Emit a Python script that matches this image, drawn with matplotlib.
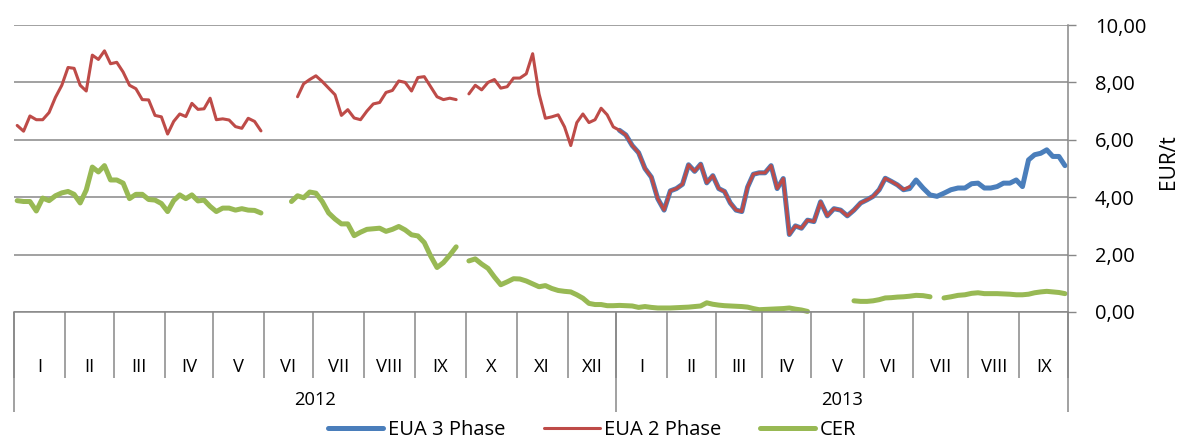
import numpy as np
import matplotlib
matplotlib.use('Agg')
import matplotlib.pyplot as plt
from matplotlib.ticker import FixedLocator, FuncFormatter

plt.rcParams['font.family'] = ['Open Sans', 'DejaVu Sans']

# categories
months = ['I', 'II', 'III', 'IV', 'V', 'VI', 'VII', 'VIII', 'IX', 'X', 'XI', 'XII',
          'I', 'II', 'III', 'IV', 'V', 'VI', 'VII', 'VIII', 'IX']
years = ['2012', '2013']
months_per_year = [12, 9]
trading_days = [21, 20, 21, 20, 21, 20, 21, 21, 21, 21, 21, 20,
                21, 20, 19, 20, 22, 20, 23, 21, 20]
SAMPLES = 8  # readings per month, evenly spread over the month

# EUA 2 Phase, I 2012 .. VI 2013 (EUR/t)
eua2 = [
    6.5, 6.3, 6.83, 6.7, 6.7, 6.95, 7.48, 7.9,
    8.52, 8.49, 7.9, 7.7, 8.95, 8.8, 9.1, 8.65,
    8.7, 8.36, 7.9, 7.78, 7.4, 7.39, 6.85, 6.8,
    6.2, 6.64, 6.9, 6.81, 7.27, 7.06, 7.08, 7.45,
    6.7, 6.73, 6.69, 6.46, 6.4, 6.75, 6.64, 6.31,
    None, None, None, None, None, 7.5, 7.95, 8.1,
    8.23, 8.03, 7.8, 7.57, 6.85, 7.05, 6.76, 6.7,
    7.0, 7.25, 7.3, 7.65, 7.72, 8.05, 8.0, 7.7,
    8.17, 8.2, 7.85, 7.5, 7.4, 7.45, 7.4, None,
    7.6, 7.9, 7.74, 8.0, 8.1, 7.8, 7.85, 8.15,
    8.15, 8.3, 9.0, 7.6, 6.75, 6.8, 6.87, 6.45,
    5.8, 6.6, 6.9, 6.6, 6.7, 7.1, 6.87, 6.45,
    6.33, 6.17, 5.8, 5.55, 5.0, 4.7, 3.95, 3.55,
    4.22, 4.3, 4.45, 5.13, 4.9, 5.15, 4.5, 4.75,
    4.3, 4.2, 3.8, 3.55, 3.5, 4.35, 4.8, 4.85,
    4.85, 5.1, 4.3, 4.65, 2.7, 3.0, 2.92, 3.2,
    3.15, 3.84, 3.35, 3.6, 3.55, 3.35, 3.55, 3.8,
    3.91, 4.03, 4.26, 4.66, 4.55, 4.43, 4.26, 4.37,
]

# EUA 3 Phase, I 2013 .. IX 2013
eua3 = [
    6.33, 6.17, 5.8, 5.55, 5.0, 4.7, 3.95, 3.55,
    4.22, 4.3, 4.45, 5.13, 4.9, 5.15, 4.5, 4.75,
    4.3, 4.2, 3.8, 3.55, 3.5, 4.35, 4.8, 4.85,
    4.85, 5.1, 4.3, 4.65, 2.7, 3.0, 2.92, 3.2,
    3.15, 3.84, 3.35, 3.6, 3.55, 3.35, 3.55, 3.8,
    3.91, 4.03, 4.26, 4.66, 4.55, 4.43, 4.26, 4.3,
    4.6, 4.32, 4.08, 4.03, 4.14, 4.26, 4.32, 4.32,
    4.47, 4.49, 4.32, 4.32, 4.37, 4.49, 4.49, 4.6,
    4.37, 5.3, 5.48, 5.53, 5.65, 5.42, 5.42, 5.1,
]

# CER, I 2012 .. IX 2013
cer = [
    3.88, 3.85, 3.85, 3.52, 3.97, 3.88, 4.05, 4.15,
    4.2, 4.1, 3.8, 4.25, 5.05, 4.88, 5.1, 4.6,
    4.6, 4.49, 3.95, 4.1, 4.1, 3.92, 3.9, 3.78,
    3.5, 3.88, 4.08, 3.95, 4.08, 3.87, 3.9, 3.68,
    3.5, 3.62, 3.62, 3.55, 3.6, 3.55, 3.54, 3.45,
    None, None, None, None, 3.85, 4.05, 3.98, 4.18,
    4.14, 3.85, 3.45, 3.24, 3.07, 3.07, 2.66, 2.78,
    2.88, 2.9, 2.92, 2.81, 2.88, 2.98, 2.86, 2.69,
    2.65, 2.42, 1.95, 1.55, 1.72, 1.98, 2.27, None,
    1.78, 1.85, 1.67, 1.52, 1.22, 0.95, 1.05, 1.16,
    1.15, 1.08, 0.98, 0.88, 0.92, 0.82, 0.75, 0.72,
    0.7, 0.6, 0.48, 0.3, 0.26, 0.26, 0.22, 0.22,
    0.23, 0.22, 0.21, 0.16, 0.19, 0.16, 0.14, 0.14,
    0.14, 0.15, 0.16, 0.17, 0.19, 0.21, 0.32, 0.27,
    0.24, 0.22, 0.21, 0.2, 0.19, 0.17, 0.12, 0.08,
    0.09, 0.1, 0.11, 0.12, 0.14, 0.1, 0.07, 0.02,
    None, None, None, None, None, None, 0.39, 0.37,
    0.37, 0.39, 0.43, 0.49, 0.5, 0.52, 0.53, 0.55,
    0.58, 0.57, 0.53, None, 0.49, 0.53, 0.58, 0.6,
    0.65, 0.67, 0.64, 0.64, 0.64, 0.63, 0.62, 0.6,
    0.6, 0.62, 0.67, 0.7, 0.72, 0.7, 0.68, 0.64,
]

days = np.array(trading_days)
bounds = np.concatenate([[0], np.cumsum(days)])
frac = (np.arange(SAMPLES) + 0.5) / SAMPLES
x_all = (bounds[:-1, None] + frac[None, :] * days[:, None]).ravel()
year_bounds = bounds[np.concatenate([[0], np.cumsum(months_per_year)])]
start_2013 = months_per_year[0] * SAMPLES

GRAY = '#878787'

fig = plt.figure(figsize=(11.81, 4.41), dpi=100)
ax = fig.add_axes([14 / 1181, 129 / 441, 1054 / 1181, 287 / 441])

line_kw = dict(clip_on=False, solid_capstyle='round', solid_joinstyle='round')
ax.plot(x_all[start_2013:start_2013 + len(eua3)], np.array(eua3, dtype=float),
        color='#4A7EBB', lw=3.6, label='EUA 3 Phase', **line_kw)
ax.plot(x_all[:len(eua2)], np.array(eua2, dtype=float),
        color='#BE4B48', lw=2.2, label='EUA 2 Phase', **line_kw)
ax.plot(x_all[:len(cer)], np.array(cer, dtype=float),
        color='#98B954', lw=3.6, label='CER', **line_kw)

ax.set_xlim(bounds[0], bounds[-1])
ax.set_ylim(0, 10)
ax.set_yticks(np.arange(0, 11, 2))
ax.yaxis.tick_right()
ax.yaxis.set_major_formatter(FuncFormatter(lambda v, p: f'{v:.2f}'.replace('.', ',')))
ax.tick_params(axis='y', length=5.8, width=1, color=GRAY, pad=13.5, labelsize=14.5)
ax.yaxis.grid(True, color=GRAY, lw=1.1)
ax.set_axisbelow(True)

for side in ['left', 'top']:
    ax.spines[side].set_visible(False)
for side in ['right', 'bottom']:
    ax.spines[side].set_color(GRAY)
    ax.spines[side].set_linewidth(1.1)

# multi-level category axis: month ticks and longer year ticks
ax.xaxis.remove_overlapping_locs = False
ax.xaxis.set_major_locator(FixedLocator(bounds))
ax.xaxis.set_minor_locator(FixedLocator(year_bounds))
ax.tick_params(axis='x', which='major', length=47.5, width=1.1, color=GRAY,
               labelbottom=False)
ax.tick_params(axis='x', which='minor', length=72, width=1.1, color=GRAY,
               labelbottom=False)

for i, lab in enumerate(months):
    ax.annotate(lab, xy=((bounds[i] + bounds[i + 1]) / 2, 0),
                xycoords=('data', 'axes fraction'), xytext=(0, -39.4),
                textcoords='offset points', ha='center', va='center', fontsize=13.2)
for i, lab in enumerate(years):
    ax.annotate(lab, xy=((year_bounds[i] + year_bounds[i + 1]) / 2, 0),
                xycoords=('data', 'axes fraction'), xytext=(0, -63.4),
                textcoords='offset points', ha='center', va='center', fontsize=13.2)

fig.text(1168 / 1181, 1 - 162 / 441, 'EUR/t', rotation=90, ha='center',
         va='center', fontsize=15)

fig.legend(loc='center', bbox_to_anchor=(592 / 1181, 1 - 430 / 441), ncol=3,
           frameon=False, fontsize=14.5, handlelength=2.75, handletextpad=0.2,
           columnspacing=1.95, borderaxespad=0, borderpad=0)

fig.savefig('out.png', dpi=100)
